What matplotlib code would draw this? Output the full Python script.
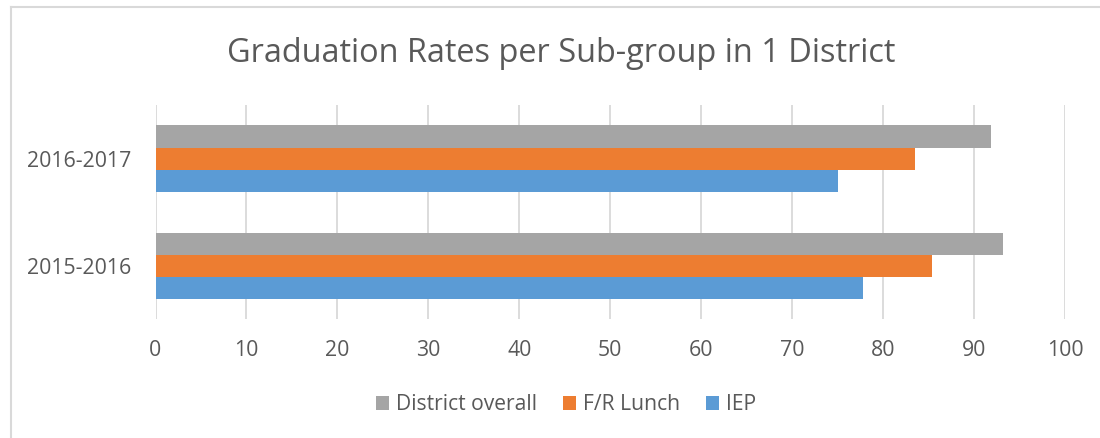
import numpy as np
import matplotlib.pyplot as plt
from matplotlib.lines import Line2D

plt.rcParams['font.family'] = ['Open Sans', 'DejaVu Sans']

years = ['2015-2016', '2016-2017']
district = [93.2, 91.9]
lunch = [85.4, 83.5]
iep = [77.8, 75.0]

text_col = '#595959'
grid_col = '#D9D9D9'

fig = plt.figure(figsize=(11, 4.38), dpi=100)
ax = fig.add_axes([155.5/1100, (438-319.3)/438, (1065-155.5)/1100, (319.3-105)/438])

y = np.arange(len(years))
h = 0.206
ax.barh(y - h, iep, height=h, color='#5B9BD5', label='IEP')
ax.barh(y, lunch, height=h, color='#ED7D31', label='F/R Lunch')
ax.barh(y + h, district, height=h, color='#A5A5A5', label='District overall')

ax.set_xlim(0, 100)
ax.set_ylim(-0.5, 1.5)
ax.set_xticks(range(0, 101, 10))
ax.set_yticks(y)
ax.set_yticklabels(years)
ax.grid(axis='x', color=grid_col, lw=1.3)
ax.set_axisbelow(True)
for s in ax.spines.values():
    s.set_visible(False)
ax.tick_params(length=0, labelsize=15.3, labelcolor=text_col)
ax.tick_params(axis='x', pad=15)
ax.tick_params(axis='y', pad=17.5)

fig.text(561/1100, 1 - 62/438, 'Graduation Rates per Sub-group in 1 District',
         ha='center', va='baseline', fontsize=23.4, color=text_col)

handles, labels = ax.get_legend_handles_labels()
leg = fig.legend(handles[::-1], labels[::-1], loc='center', bbox_to_anchor=(566/1100, 1 - 405/438),
                 ncol=3, frameon=False, fontsize=15.2, handlelength=0.62, handleheight=0.62,
                 handletextpad=0.3, columnspacing=1.25)
for t in leg.get_texts():
    t.set_color(text_col)

# chart border (only top and left visible)
fig.add_artist(Line2D([10.5/1100, 10.5/1100], [0, 1 - 6.5/438], transform=fig.transFigure, color='#D9D9D9', lw=1.5))
fig.add_artist(Line2D([10.5/1100, 1], [1 - 6.5/438, 1 - 6.5/438], transform=fig.transFigure, color='#D9D9D9', lw=1.5))

fig.savefig('out.png', dpi=100)
